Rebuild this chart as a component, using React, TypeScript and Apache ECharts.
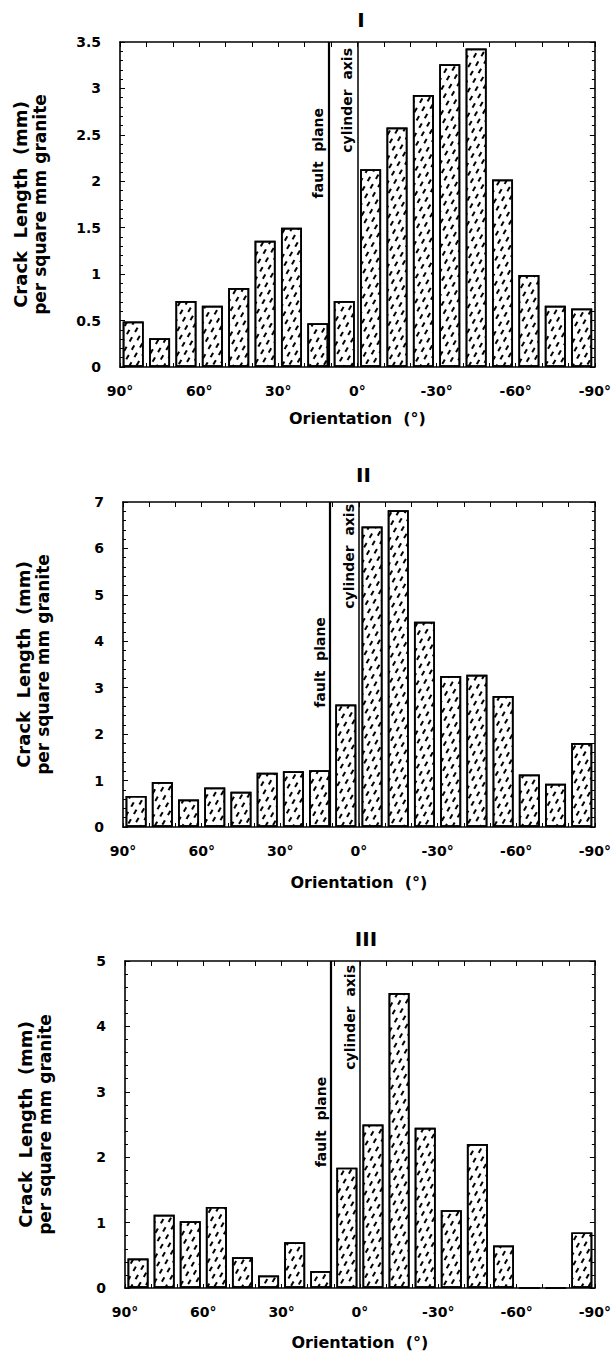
import React, { useEffect, useRef } from "react";
import * as echarts from "echarts";

// ---- data ----
const binCenters = [85, 75, 65, 55, 45, 35, 25, 15, 5, -5, -15, -25, -35, -45, -55, -65, -75, -85];
const panelNames = ["I", "II", "III"];
const crackI = [0.49, 0.31, 0.71, 0.66, 0.85, 1.36, 1.5, 0.47, 0.71, 2.13, 2.58, 2.93, 3.26, 3.43, 2.02, 0.99, 0.66, 0.63];
const crackII = [0.67, 0.97, 0.59, 0.85, 0.76, 1.17, 1.2, 1.22, 2.64, 6.47, 6.82, 4.42, 3.25, 3.28, 2.82, 1.13, 0.93, 1.81];
const crackIII = [0.45, 1.12, 1.02, 1.24, 0.47, 0.19, 0.7, 0.26, 1.84, 2.5, 4.51, 2.45, 1.19, 2.2, 0.65, 0, 0, 0.85];
const yMax = [3.5, 7, 5];
const yInterval = [0.5, 1, 1];
const xTickLabels = ["90\u00b0", "60\u00b0", "30\u00b0", "0\u00b0", "-30\u00b0", "-60\u00b0", "-90\u00b0"];
const xTickValues = [90, 60, 30, 0, -30, -60, -90];
const faultPlaneDeg = 11;
const cylinderAxisDeg = 0;
const yTitle1 = "Crack  Length  (mm)";
const yTitle2 = "per square mm granite";
const xTitle = "Orientation  (\u00b0)";
const faultLabel = "fault  plane";
const cylLabel = "cylinder  axis";

// ---- layout ----
const grids = [
  { left: 120, top: 42, width: 482, height: 325 },
  { left: 123, top: 502, width: 481, height: 325 },
  { left: 125, top: 961, width: 482, height: 327 },
];
const xNameGap = [43, 47, 46];
const titleY = [20, 475, 939];
const faultLabelTopVal = [2.79, 4.52, 3.23];
const cylLabelTopOffset = [6, 2, 4];

const FONT = '"DejaVu Sans", sans-serif';

function tickLabel(v: number): string {
  for (let k = 0; k < xTickValues.length; k++) {
    if (Math.abs(v - xTickValues[k]) < 1e-6) return xTickLabels[k];
  }
  return "";
}

export default function App() {
  const ref = useRef<HTMLDivElement>(null);
  useEffect(() => {
    if (!ref.current) return;
    const chart = echarts.init(ref.current, null, { renderer: "svg" });
    const seriesData = [crackI, crackII, crackIII];

    const xAxes: any[] = [];
    const yAxes: any[] = [];
    const series: any[] = [];
    grids.forEach((g, i) => {
      const common = {
        type: "value",
        gridIndex: i,
        min: -90,
        max: 90,
        interval: 10,
        inverse: true,
        splitLine: { show: false },
        axisLine: { show: true, onZero: false, lineStyle: { color: "#000", width: 1.6 } },
      };
      xAxes.push({
        ...common,
        position: "bottom",
        axisTick: { show: true, inside: true, length: 4, lineStyle: { color: "#000", width: 1 } },
        axisLabel: {
          show: true,
          margin: 17,
          color: "#000",
          fontFamily: FONT,
          fontWeight: "bold",
          fontSize: 14,
          formatter: (v: number) => tickLabel(v),
        },
        name: xTitle,
        nameLocation: "middle",
        nameGap: xNameGap[i],
        nameTextStyle: { color: "#000", fontFamily: FONT, fontWeight: "bold", fontSize: 16 },
      });
      xAxes.push({
        ...common,
        position: "top",
        axisTick: { show: true, inside: true, length: 5, lineStyle: { color: "#000", width: 1 } },
        axisLabel: { show: false },
      });
      const ycommon = {
        type: "value",
        gridIndex: i,
        min: 0,
        max: yMax[i],
        interval: yInterval[i],
        splitLine: { show: false },
        axisLine: { show: true, onZero: false, lineStyle: { color: "#000", width: 1.6 } },
        axisTick: { show: true, inside: true, length: 5, lineStyle: { color: "#000", width: 1 } },
        minorTick: { show: true, splitNumber: 5, length: 3, lineStyle: { color: "#000", width: 1 } },
        minorSplitLine: { show: false },
      };
      yAxes.push({
        ...ycommon,
        position: "left",
        axisLabel: {
          show: true,
          margin: 19,
          color: "#000",
          fontFamily: FONT,
          fontWeight: "bold",
          fontSize: 14,
        },
      });
      yAxes.push({ ...ycommon, position: "right", axisLabel: { show: false } });

      series.push({
        type: "bar",
        name: panelNames[i],
        xAxisIndex: 2 * i,
        yAxisIndex: 2 * i,
        barWidth: 21,
        data: binCenters.map((c, k) => [c, seriesData[i][k]]),
        itemStyle: {
          color: "#fff",
          borderColor: "#000",
          borderWidth: 1.7,
          decal: {
            symbol: "rect",
            symbolSize: 1,
            symbolKeepAspect: false,
            color: "#000",
            dashArrayX: [[4.5, 5.5], [0, 5, 4.5, 0.5]],
            dashArrayY: [1.3, 3.5],
            rotation: -Math.PI / 3,
          },
        },
        markLine: {
          silent: true,
          symbol: ["none", "none"],
          label: { show: false },
          data: [
            { xAxis: faultPlaneDeg, lineStyle: { color: "#000", width: 2.2, type: "solid" } },
            { xAxis: cylinderAxisDeg, lineStyle: { color: "#000", width: 1.5, type: "solid" } },
          ],
        },
      });
    });

    chart.setOption({
      animation: false,
      backgroundColor: "#fff",
      aria: { enabled: true, label: { enabled: false }, decal: { show: true } },
      grid: grids.map((g) => ({ ...g, containLabel: false })),
      xAxis: xAxes,
      yAxis: yAxes,
      series,
    });

    const graphics: any[] = [];
    grids.forEach((g, i) => {
      const fx = chart.convertToPixel({ xAxisIndex: 2 * i } as any, faultPlaneDeg) as number;
      const cx = chart.convertToPixel({ xAxisIndex: 2 * i } as any, cylinderAxisDeg) as number;
      const fy = chart.convertToPixel({ yAxisIndex: 2 * i } as any, faultLabelTopVal[i]) as number;
      const txt = (text: string, size: number, x: number, y: number, rot: number, align: string, valign: string) => ({
        type: "text",
        x,
        y,
        rotation: rot,
        silent: true,
        style: {
          text,
          fill: "#000",
          font: `bold ${size}px ${FONT}`,
          align,
          verticalAlign: valign,
          textAlign: align,
          textVerticalAlign: valign,
        },
      });
      graphics.push(txt(faultLabel, 14, fx - 3, fy, Math.PI / 2, "right", "bottom"));
      graphics.push(txt(cylLabel, 14, cx - 3, g.top + cylLabelTopOffset[i], Math.PI / 2, "right", "bottom"));
      graphics.push(txt(panelNames[i], 20, g.left + g.width / 2, titleY[i], 0, "center", "middle"));
      graphics.push(txt(yTitle1, 18, g.left - 100, g.top + g.height / 2, Math.PI / 2, "center", "middle"));
      graphics.push(txt(yTitle2, 17, g.left - 80, g.top + g.height / 2, Math.PI / 2, "center", "middle"));
    });
    chart.setOption({ graphic: graphics });

    return () => chart.dispose();
  }, []);
  return <div ref={ref} style={{ position: "absolute", left: 0, top: 0, width: 614, height: 1357 }} />;
}
